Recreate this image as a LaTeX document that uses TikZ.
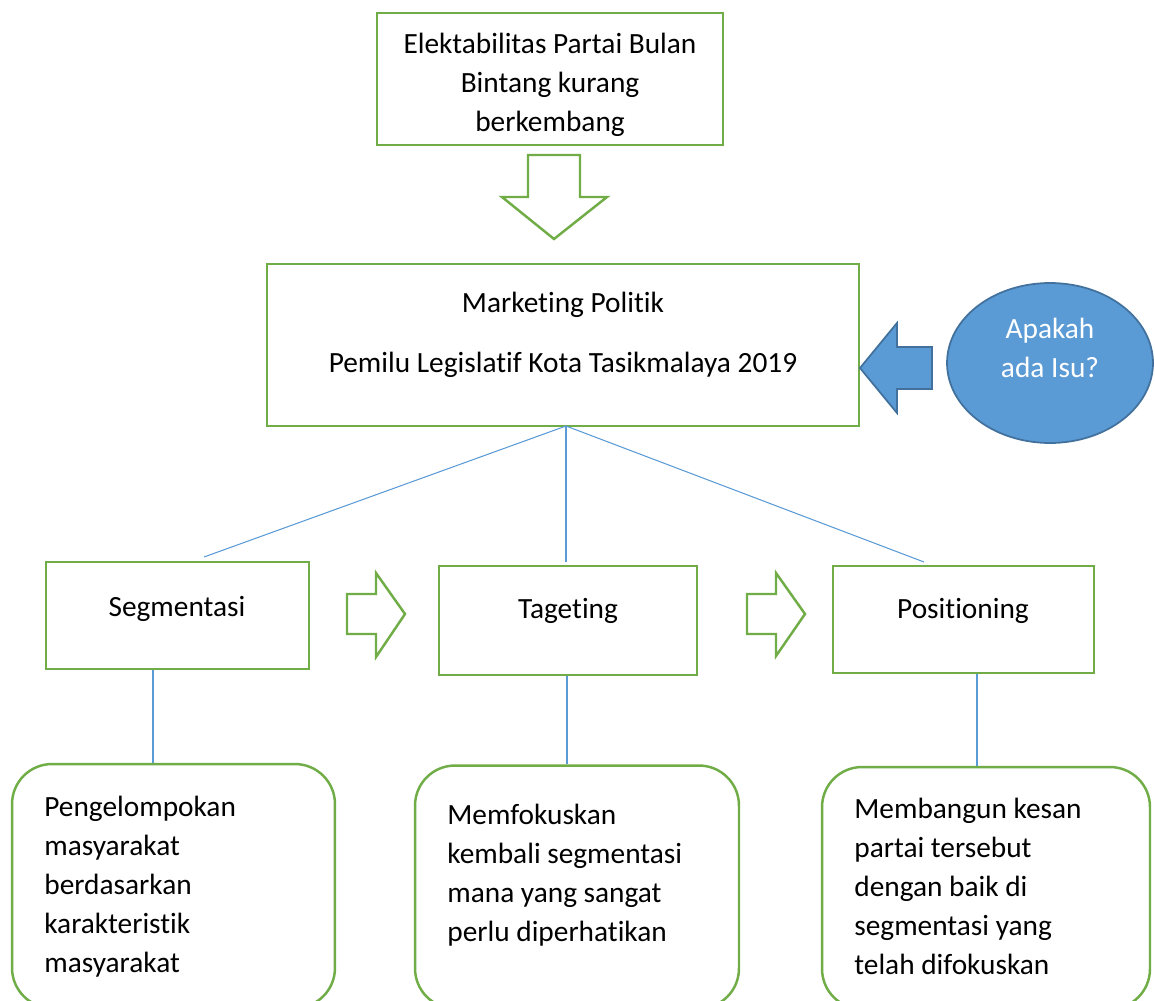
\documentclass[tikz,border=0pt]{standalone}
\usepackage{fontspec}
\setmainfont{Carlito}[RawFeature={-liga}]
\usetikzlibrary{shapes.geometric}
\definecolor{grn}{HTML}{70AD47}
\definecolor{blu}{HTML}{5B9BD5}
\definecolor{bludk}{HTML}{41719C}
\begin{document}
\begin{tikzpicture}[x=0.02cm,y=-0.02cm,
  txt/.style={font=\fontsize{16.7}{22.1}\selectfont,inner sep=0pt},
  gbox/.style={draw=grn,line width=1.4pt,fill=white,inner sep=0pt},
  rbox/.style={gbox,rounded corners=0.8cm},
  garrow/.style={draw=grn,line width=1.4pt,fill=white},
  barrow/.style={draw=bludk,line width=1pt,fill=blu},
  link/.style={draw=blu,line width=0.6pt}]
\useasboundingbox (0,0) rectangle (1155,1000);
\clip (0,0) rectangle (1155,1000);
% top box
\node[gbox,minimum width=6.92cm,minimum height=2.64cm] (top) at (550,79) {};
\node[txt,align=center] (toptxt) at (550,85) {Elektabilitas Partai Bulan\\Bintang kurang\\berkembang};
% down arrow
\draw[garrow] (528,155) -- (580,155) -- (580,197) -- (607,197) -- (554,239) -- (502,197) -- (528,197) -- cycle;
% main box
\node[gbox,minimum width=11.84cm,minimum height=3.24cm] (main) at (563,345) {};
\node[txt] (mt1) at (563,305) {Marketing Politik};
\node[txt] (mt2) at (563,365) {Pemilu Legislatif Kota Tasikmalaya 2019};
% ellipse
\node[ellipse,draw=bludk,line width=1pt,fill=blu,minimum width=4.12cm,minimum height=3.2cm,inner sep=0pt] (isu) at (1050,363) {};
\node[txt,text=white,align=center] (isutxt) at (1050,348) {Apakah\\ada Isu?};
% left arrow
\draw[barrow] (860,368) -- (897,323) -- (897,347) -- (932,347) -- (932,389) -- (897,389) -- (897,413) -- cycle;
% three boxes
\node[gbox,minimum width=5.26cm,minimum height=2.14cm] (seg) at (177.5,615.5) {};
\node[txt] (segt) at (177,609) {Segmentasi};
\node[gbox,minimum width=5.16cm,minimum height=2.18cm] (tag) at (568,620.5) {};
\node[txt] (tagt) at (568,611) {Tageting};
\node[gbox,minimum width=5.22cm,minimum height=2.14cm] (pos) at (963.5,619.5) {};
\node[txt] (post) at (963,611) {Positioning};
% right arrows
\draw[garrow] (347,594) -- (376,594) -- (376,573) -- (405,614) -- (376,657) -- (376,634) -- (347,634) -- cycle;
\draw[garrow] (747,594) -- (776,594) -- (776,573) -- (805,614) -- (776,656) -- (776,634) -- (747,634) -- cycle;
% connectors from main
\coordinate (mroot) at (566,426);
\coordinate (e1) at (204,557);
\coordinate (e2) at (566,562);
\coordinate (e3) at (924,562);
\draw[link] (mroot) -- (e1);
\draw[link] (mroot) -- (e2);
\draw[link] (mroot) -- (e3);
% bottom boxes
\node[rbox,minimum width=6.46cm,minimum height=4.88cm] (b1) at (173.5,886) {};
\node[rbox,minimum width=6.48cm,minimum height=4.86cm] (b2) at (577,887) {};
\node[rbox,minimum width=6.56cm,minimum height=4.84cm] (b3) at (986,888) {};
\coordinate (c1) at (153,0);
\coordinate (c2) at (567,0);
\coordinate (c3) at (977,0);
\draw[link] (seg.south -| c1) -- (b1.north -| c1);
\draw[link] (tag.south -| c2) -- (b2.north -| c2);
\draw[link] (pos.south -| c3) -- (b3.north -| c3);
\node[txt,align=left,anchor=north west] (b1t) at (44,796) {Pengelompokan\\masyarakat\\berdasarkan\\karakteristik\\masyarakat};
\node[txt,align=left,anchor=north west] (b2t) at (447,804) {Memfokuskan\\kembali segmentasi\\mana yang sangat\\perlu diperhatikan};
\node[txt,align=left,anchor=north west] (b3t) at (854,798) {Membangun kesan\\partai tersebut\\dengan baik di\\segmentasi yang\\telah difokuskan};
\end{tikzpicture}
\end{document}
